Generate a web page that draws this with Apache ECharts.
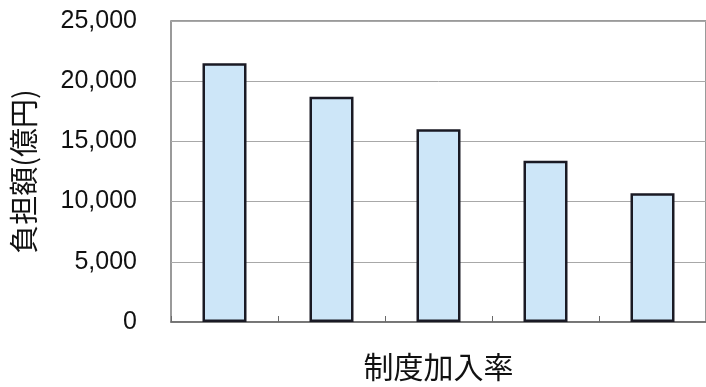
<!DOCTYPE html>
<html>
<head>
<meta charset="utf-8">
<script src="https://cdn.jsdelivr.net/npm/echarts@6/dist/echarts.min.js"></script>
<style>
  html, body { margin: 0; padding: 0; background: #ffffff; }
  #chart { width: 706px; height: 387px; }
</style>
</head>
<body>
<div id="chart"></div>
<script>
// Enrollment-rate scenarios (labels are not shown on the axis)
const categories = ['1', '2', '3', '4', '5'];
// Burden amount per scenario, in 億円
const burden = [21500, 18700, 16000, 13400, 10700];
// Value axis range
const yMin = 0;
const yMax = 25000;
const yStep = 5000;

const chart = echarts.init(document.getElementById('chart'), null, { renderer: 'canvas' });

const textFont = '"Liberation Sans", Arial, "Noto Sans CJK JP", sans-serif';
const cjkFont = '"Noto Sans CJK JP", sans-serif';

chart.setOption({
  backgroundColor: '#ffffff',
  animation: false,
  grid: {
    left: 171,
    top: 21,
    right: -7,
    bottom: 57,
    show: true,
    borderColor: '#7a7a7a',
    borderWidth: 1.5,
    containLabel: false
  },
  xAxis: {
    type: 'category',
    data: categories,
    name: '制度加入率',
    nameLocation: 'middle',
    nameGap: 30,
    nameTextStyle: { fontFamily: cjkFont, fontSize: 30, color: '#111111' },
    axisLine: { show: true, lineStyle: { color: '#6a6a6a', width: 1.5 } },
    axisTick: { show: true, inside: true, length: 6, lineStyle: { color: '#6a6a6a' } },
    axisLabel: { show: false },
    splitLine: { show: false }
  },
  yAxis: {
    type: 'value',
    min: yMin,
    max: yMax,
    interval: yStep,
    name: '負担額(億円)',
    nameLocation: 'middle',
    nameGap: 133,
    nameRotate: 90,
    nameTextStyle: { fontFamily: cjkFont, fontSize: 29, color: '#111111' },
    axisLine: { show: false },
    axisTick: { show: false },
    axisLabel: {
      margin: 34,
      fontFamily: textFont,
      fontSize: 25,
      color: '#111111',
      formatter: v => v.toLocaleString('en-US')
    },
    splitLine: { show: true, lineStyle: { color: '#a8a8a8', width: 1 } }
  },
  series: [{
    type: 'bar',
    data: burden,
    barWidth: 44,
    itemStyle: {
      color: '#cde6f8',
      borderColor: '#1a1a24',
      borderWidth: 2.5
    }
  }]
});
</script>
</body>
</html>
